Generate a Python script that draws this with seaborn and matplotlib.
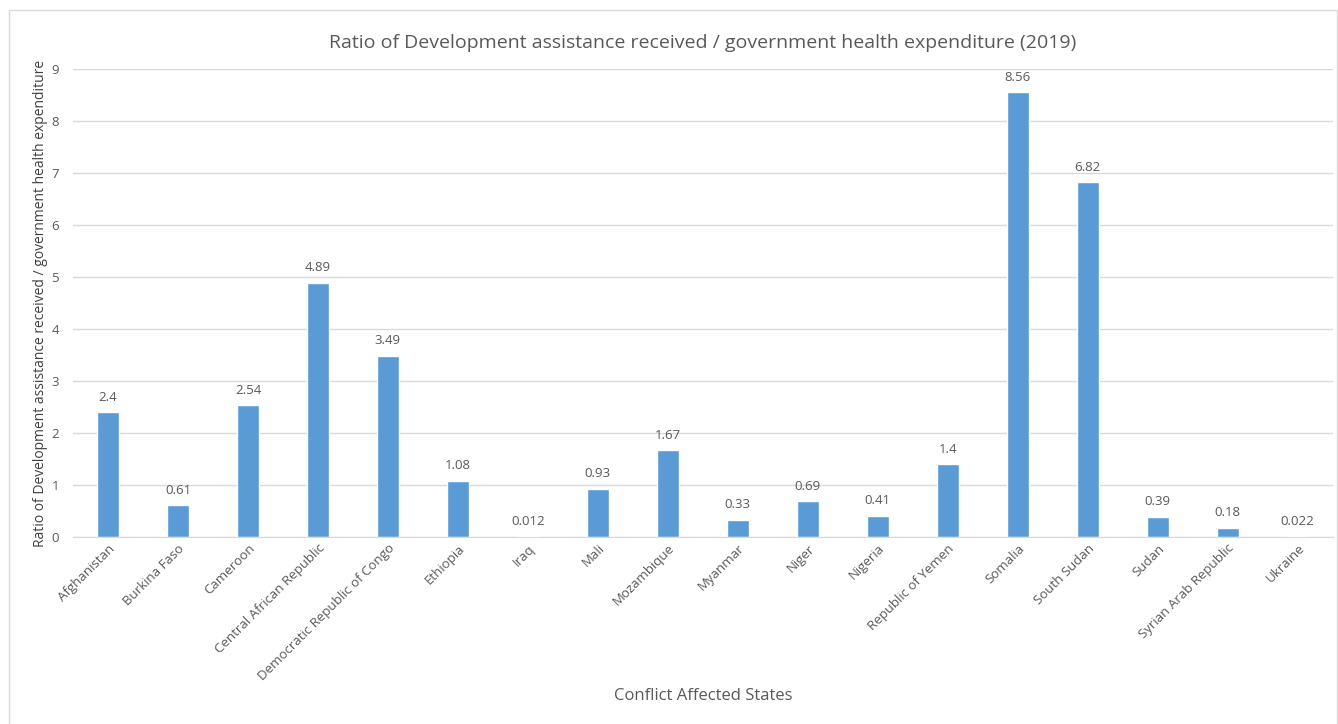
import matplotlib
matplotlib.use("Agg")
import matplotlib.pyplot as plt
import seaborn as sns
import pandas as pd
from matplotlib.patches import Rectangle

countries = ["Afghanistan", "Burkina Faso", "Cameroon", "Central African Republic",
             "Democratic Republic of Congo", "Ethiopia", "Iraq", "Mali", "Mozambique",
             "Myanmar", "Niger", "Nigeria", "Republic of Yemen", "Somalia", "South Sudan",
             "Sudan", "Syrian Arab Republic", "Ukraine"]
ratios = [2.4, 0.61, 2.54, 4.89, 3.49, 1.08, 0.012, 0.93, 1.67,
          0.33, 0.69, 0.41, 1.4, 8.56, 6.82, 0.39, 0.18, 0.022]
value_labels = ["2.4", "0.61", "2.54", "4.89", "3.49", "1.08", "0.012", "0.93", "1.67",
                "0.33", "0.69", "0.41", "1.4", "8.56", "6.82", "0.39", "0.18", "0.022"]

df = pd.DataFrame({"country": countries, "ratio": ratios})

sns.set_style("white")
plt.rcParams["font.family"] = ["Open Sans", "DejaVu Sans"]
txt = "#595959"

fig = plt.figure(figsize=(13.38, 7.24), dpi=100)
ax = fig.add_axes([0.0546, 0.2583, 0.9414, 0.6464])

sns.barplot(data=df, x="country", y="ratio", color="#5B9BD5", width=0.31,
            saturation=1, ax=ax)

ax.set_ylim(0, 9)
ax.set_yticks(range(0, 10))
ax.yaxis.grid(True, color="#D9D9D9", linewidth=1)
ax.set_axisbelow(True)
for s in ["top", "right", "left"]:
    ax.spines[s].set_visible(False)
ax.spines["bottom"].set_color("#D9D9D9")
ax.tick_params(axis="both", length=0, colors=txt, labelsize=9.5)
ax.tick_params(axis="y", pad=10)

plt.setp(ax.get_xticklabels(), rotation=45, ha="right", rotation_mode="anchor")

for i, (v, lab) in enumerate(zip(ratios, value_labels)):
    ax.annotate(lab, (i, v), xytext=(0, 6), textcoords="offset points",
                ha="center", va="bottom", fontsize=9.5, color=txt)

ax.set_xlabel("Conflict Affected States", fontsize=12, color=txt, labelpad=0)
ax.xaxis.set_label_coords(0.5, -0.322)
ax.set_ylabel("Ratio of Development assistance received / government health expenditure",
              fontsize=10, color="#404040")
ax.yaxis.set_label_coords(-0.02, 0.5)
ax.set_title("Ratio of Development assistance received / government health expenditure (2019)",
             fontsize=14, color=txt, pad=15)

fig.patches.append(Rectangle((9 / 1338, -0.01), 1328 / 1338, 1 - 10 / 724 + 0.01,
                             transform=fig.transFigure, fill=False,
                             edgecolor="#D9D9D9", linewidth=1))

fig.savefig("out.png", dpi=100)
